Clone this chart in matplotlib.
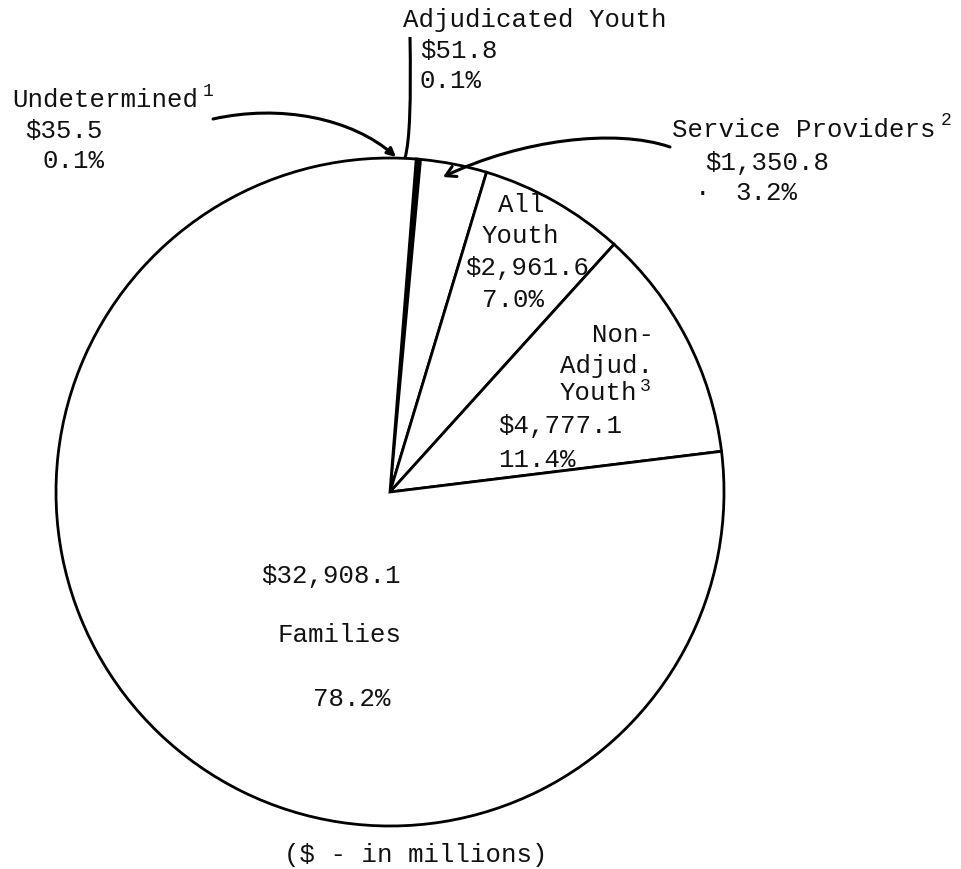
"""Pie chart: distribution of $ (in millions) by recipient group."""
import matplotlib
matplotlib.use("Agg")
import matplotlib.pyplot as plt
from matplotlib.patches import FancyArrowPatch, PathPatch
from matplotlib.path import Path

W, H = 962, 869

# data, clockwise from the top of the pie
categories = ["Undetermined", "Adjudicated Youth", "Service Providers",
              "All Youth", "Non-Adjud. Youth", "Families"]
amounts = [35.5, 51.8, 1350.8, 2961.6, 4777.1, 32908.1]   # $ millions
footnotes = ["1", "", "2", "", "3", ""]

total = sum(amounts)
money = [f"${a:,.1f}" for a in amounts]
pct = [f"{100 * a / total:.1f}%" for a in amounts]

FONT = ["Liberation Mono", "DejaVu Sans Mono"]
FS = 18.5
SUP = 13


def P(x, y):
    # image pixel coords (y down) -> data coords (y up)
    return (x, H - y)


fig = plt.figure(figsize=(W / 100, H / 100), dpi=100)
ax = fig.add_axes([0, 0, 1, 1])

ax.pie(amounts, center=P(390, 492), radius=334, startangle=85.5,
       counterclock=False, colors=["white"] * len(amounts),
       wedgeprops=dict(edgecolor="black", linewidth=2.0))
ax.set_xlim(0, W)
ax.set_ylim(0, H)
ax.set_aspect("equal")
ax.axis("off")


def txt(x, y, s, size=FS, ha="left"):
    ax.text(*P(x, y), s, fontsize=size, family=FONT, ha=ha, va="baseline",
            color="#111111")


# label blocks: (category index, [(x, baseline, text), ...], superscript pos)
txt(403, 27, categories[1])
txt(420, 58, money[1])
txt(420, 88, pct[1])

txt(12, 107, categories[0])
txt(203, 96, footnotes[0], size=SUP)
txt(25, 138, money[0])
txt(43, 168, pct[0])

txt(672, 137, categories[2])
txt(941, 125, footnotes[2], size=SUP)
txt(705, 170, money[2])
txt(703, 200, "·", ha="center")
txt(735, 200, pct[2])

txt(498, 212, "All")
txt(482, 243, "Youth")
txt(465, 275, money[3])
txt(482, 307, pct[3])

txt(592, 342, "Non-")
txt(560, 373, "Adjud.")
txt(560, 400, "Youth")
txt(640, 391, footnotes[4], size=SUP)
txt(498, 433, money[4])
txt(498, 467, pct[4])

txt(331, 583, money[5], ha="center")
txt(340, 642, categories[5], ha="center")
txt(352, 706, pct[5], ha="center")

txt(416, 862, "($ - in millions)", ha="center")

# hand drawn pointers
undet = Path([P(213, 119), P(280, 104), P(352, 118), P(396, 157)],
             [Path.MOVETO, Path.CURVE4, Path.CURVE4, Path.CURVE4])
ax.add_patch(FancyArrowPatch(path=undet, arrowstyle="-|>,head_length=5,head_width=2.5",
                             color="black", lw=2.2))

serv = Path([P(670, 147), P(615, 128), P(520, 140), P(443, 177)],
            [Path.MOVETO, Path.CURVE4, Path.CURVE4, Path.CURVE4])
ax.add_patch(FancyArrowPatch(path=serv, arrowstyle="->,head_length=7,head_width=4",
                             color="black", lw=2.2))

adj = Path([P(410, 37), P(411, 100), P(410, 140), P(405, 158)],
           [Path.MOVETO, Path.CURVE4, Path.CURVE4, Path.CURVE4])
ax.add_patch(PathPatch(adj, fill=False, color="black", lw=2.2))

fig.savefig("out.png", dpi=100, facecolor="white")
